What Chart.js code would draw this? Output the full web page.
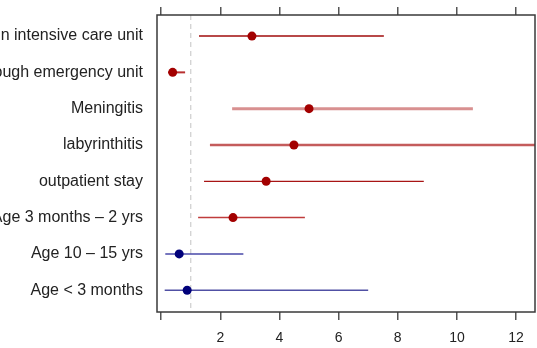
<!DOCTYPE html>
<html>
<head>
<meta charset="utf-8">
<script src="https://cdn.jsdelivr.net/npm/chart.js@4.4.0/dist/chart.umd.min.js"></script>
<style>
  html, body { margin: 0; padding: 0; background: #fff; }
  canvas { display: block; }
</style>
</head>
<body>
<canvas id="forest" width="537" height="348"></canvas>
<script>
// --- data ---
const labels = ['Admission in intensive care unit', 'Admission through emergency unit', 'Meningitis',
  'labyrinthitis', 'outpatient stay', 'Age 3 months – 2 yrs', 'Age 10 – 15 yrs', 'Age < 3 months'];
const estimate = [3.07, 0.39, 5.0, 4.49, 3.55, 2.43, 0.61, 0.88];
const lower = [1.28, 0.24, 2.4, 1.65, 1.45, 1.25, 0.14, 0.12];
const upper = [7.53, 0.81, 10.54, 12.8, 8.88, 4.86, 2.78, 7.0];
const xTicks = [0, 2, 4, 6, 8, 10, 12];
const refValue = 1;

// styles
const lineColors = ['#b84848', '#b83030', '#d89090', '#c45c5c', '#a81414', '#c03c3c', '#4848a8', '#5050a4'];
const lineWidths = [2, 2, 3, 2.5, 1.2, 1.5, 1.5, 1.5];
const pointColors = ['#a30000', '#a30000', '#a30000', '#a30000', '#a30000', '#a30000', '#00007a', '#00007a'];

const xMin = -0.14, xMax = 12.64;
const yMin = 0.42, yMax = 8.6;

const datasets = [];

// points on top
datasets.push({
    type: 'scatter',
    data: estimate.map((v, i) => ({ x: v, y: i + 1 })),
    pointRadius: 4.5,
    pointBackgroundColor: pointColors,
    pointBorderColor: pointColors,
    pointBorderWidth: 0,
    order: 0
});

// interval lines
labels.forEach((lab, i) => {
    datasets.push({
        type: 'line',
        data: [{ x: lower[i], y: i + 1 }, { x: upper[i], y: i + 1 }],
        borderColor: lineColors[i],
        borderWidth: lineWidths[i],
        pointRadius: 0,
        fill: false,
        order: 1
    });
});

// dashed reference line
datasets.push({
    type: 'line',
    data: [{ x: refValue, y: yMin }, { x: refValue, y: yMax }],
    borderColor: '#d2d2d2',
    borderWidth: 1.3,
    borderDash: [5, 4],
    pointRadius: 0,
    fill: false,
    order: 2
});

// box round the plot area
const boxPlugin = {
    id: 'box',
    afterDraw(chart) {
        const a = chart.chartArea;
        const ctx = chart.ctx;
        ctx.save();
        ctx.strokeStyle = '#3a3a3a';
        ctx.lineWidth = 1.5;
        ctx.strokeRect(a.left, a.top, a.right - a.left, a.bottom - a.top);
        ctx.restore();
    }
};

const setXTicks = scale => { scale.ticks = xTicks.map(v => ({ value: v })); };
const noPad = s => { s.paddingTop = 0; s.paddingBottom = 0; s.paddingLeft = 0; s.paddingRight = 0; };

new Chart(document.getElementById('forest'), {
    type: 'scatter',
    data: { datasets: datasets },
    plugins: [boxPlugin],
    options: {
        responsive: false,
        animation: false,
        layout: { autoPadding: false, padding: { left: 0, right: 2, top: 0, bottom: 0 } },
        plugins: { legend: { display: false }, tooltip: { enabled: false } },
        scales: {
            x: {
                type: 'linear',
                position: 'bottom',
                min: xMin,
                max: xMax,
                afterBuildTicks: setXTicks,
                afterFit: s => { s.height = 36; noPad(s); },
                border: { display: false },
                grid: { drawOnChartArea: false, drawTicks: true, tickLength: 8, color: '#555', lineWidth: 1.5 },
                ticks: {
                    padding: 10,
                    color: '#222',
                    font: { family: 'Arial, "Liberation Sans", sans-serif', size: 14 },
                    callback: v => v === 0 ? '' : String(v),
                    maxRotation: 0,
                    autoSkip: false
                }
            },
            x2: {
                type: 'linear',
                position: 'top',
                min: xMin,
                max: xMax,
                afterBuildTicks: setXTicks,
                afterFit: s => { s.height = 15; noPad(s); },
                border: { display: false },
                grid: { drawOnChartArea: false, drawTicks: true, tickLength: 8, color: '#555', lineWidth: 1.5 },
                ticks: { display: false }
            },
            y: {
                type: 'linear',
                position: 'left',
                reverse: true,
                min: yMin,
                max: yMax,
                afterBuildTicks: s => { s.ticks = labels.map((l, i) => ({ value: i + 1 })); },
                afterFit: s => { s.width = 157; noPad(s); },
                border: { display: false },
                grid: { display: false, drawTicks: false },
                ticks: {
                    padding: 14,
                    color: '#222',
                    font: { family: 'Arial, "Liberation Sans", sans-serif', size: 16 },
                    callback: v => labels[Math.round(v) - 1],
                    autoSkip: false
                }
            }
        }
    }
});
</script>
</body>
</html>
